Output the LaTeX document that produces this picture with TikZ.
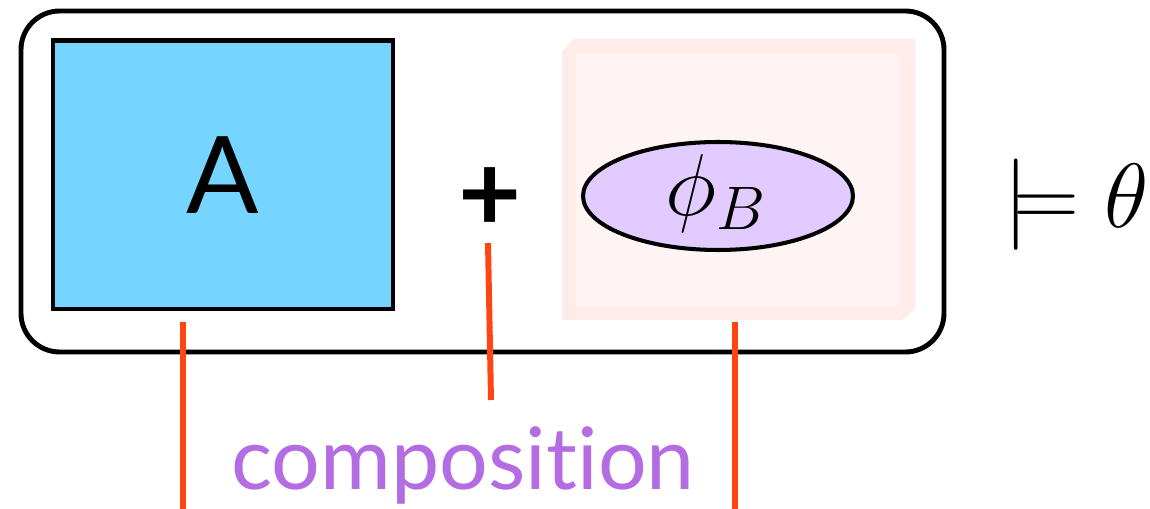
\RequirePackage{fix-cm}
\documentclass[tikz,border=0pt]{standalone}
\usepackage{fontspec}
\setmainfont{Lato}[Ligatures=NoCommon]
\usepackage{amsmath}
\usetikzlibrary{positioning, shapes.geometric}
\definecolor{boxblue}{RGB}{118,213,255}
\definecolor{pinkout}{RGB}{255,236,234}
\definecolor{pinkin}{RGB}{253,244,243}
\definecolor{lilac}{RGB}{226,204,255}
\definecolor{red}{RGB}{255,69,20}
\definecolor{purple}{RGB}{180,108,226}

\begin{document}
\begin{tikzpicture}[x=0.02cm, y=-0.02cm]
  \useasboundingbox (0,0) rectangle (1150,509);
  %% 1. Outer frame
  \draw[line width=2.8pt, rounded corners=22pt] (21,11) rectangle (944,352);
  %% 2. Shaded region B
  \fill[pinkout] (574,39) -- (915,39) -- (915,309) -- (902,320) -- (562,320) -- (562,51) -- cycle;
  \fill[pinkin] (576,54) rectangle (900,306);
  %% 3. Boxes and labels
  \node[draw, line width=2.3pt, fill=boxblue, minimum width=6.82cm, minimum height=5.38cm,
        font=\fontsize{61}{61}\selectfont] (A) at (223,175) {A};
  \node[font=\fontsize{62}{62}\selectfont\bfseries] (plus) at (490,200) {+};
  \node[draw, ellipse, line width=2.3pt, fill=lilac, minimum width=5.4cm, minimum height=2.16cm,
        inner sep=0pt] (phiB) at (718,196) {};
  \node[font=\fontsize{50}{50}\selectfont] (phiBtext) at (716,194) {$\phi_B$};
  \node[font=\fontsize{52}{52}\selectfont] (models) at (1076,205) {$\models\theta$};
  \node[font=\fontsize{49}{49}\selectfont, text=purple] (comp) at (463,465) {composition};
  %% 4. Connectors
  \coordinate (c1) at (183,322);
  \coordinate (c1e) at (183,509);
  \coordinate (c2) at (488,243);
  \coordinate (c2e) at (491,400);
  \coordinate (c3) at (735,322);
  \coordinate (c3e) at (735,509);
  \draw[red, line width=3.4pt] (c1) -- (c1e);
  \draw[red, line width=3.4pt] (c2) -- (c2e);
  \draw[red, line width=3.4pt] (c3) -- (c3e);
\end{tikzpicture}
\end{document}
